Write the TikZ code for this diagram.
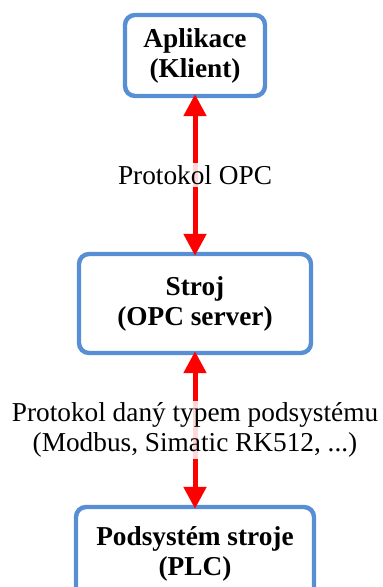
\documentclass[tikz,border=0pt]{standalone}
\usepackage{fontspec}
\setmainfont{Liberation Serif}
\usetikzlibrary{arrows.meta}
\definecolor{boxBlue}{RGB}{88,143,212}
\newcommand{\labelFont}[0]{\fontsize{13.65}{15}\selectfont}
\newcommand{\tipSize}[0]{11pt}

\begin{document}
\begin{tikzpicture}[x=0.5pt, y=-0.5pt]
  \tikzset{
    sysbox/.style={draw=boxBlue, line width=2.2pt, rounded corners=5pt,
      align=center, inner sep=0pt, font=\labelFont\bfseries},
    link/.style={draw=red, line width=2.5pt,
      {Triangle[length=\tipSize,width=\tipSize]}-{Triangle[length=\tipSize,width=\tipSize]},
      shorten <=-2pt, shorten >=-2pt},
    proto/.style={fill=white, fill opacity=0.85, text opacity=1,
      align=center, inner sep=1pt, font=\labelFont}
  }
  \useasboundingbox (0,0) rectangle (383,587);
  \node[sysbox, minimum width=70pt, minimum height=40.5pt] (app) at (195,55.5) {Aplikace\\(Klient)};
  \node[sysbox, minimum width=116pt, minimum height=49.5pt] (stroj) at (195,303.5) {Stroj\\(OPC server)};
  \node[sysbox, minimum width=119pt, minimum height=47pt] (plc) at (195,554) {Podsystém stroje\\(PLC)};
  \draw[link] (stroj.north) -- node[proto] (opc) {Protokol OPC} (app.south);
  \draw[link] (plc.north) -- node[proto] (sub) {Protokol daný typem podsystému\\(Modbus, Simatic RK512, ...)} (stroj.south);
\end{tikzpicture}
\end{document}
